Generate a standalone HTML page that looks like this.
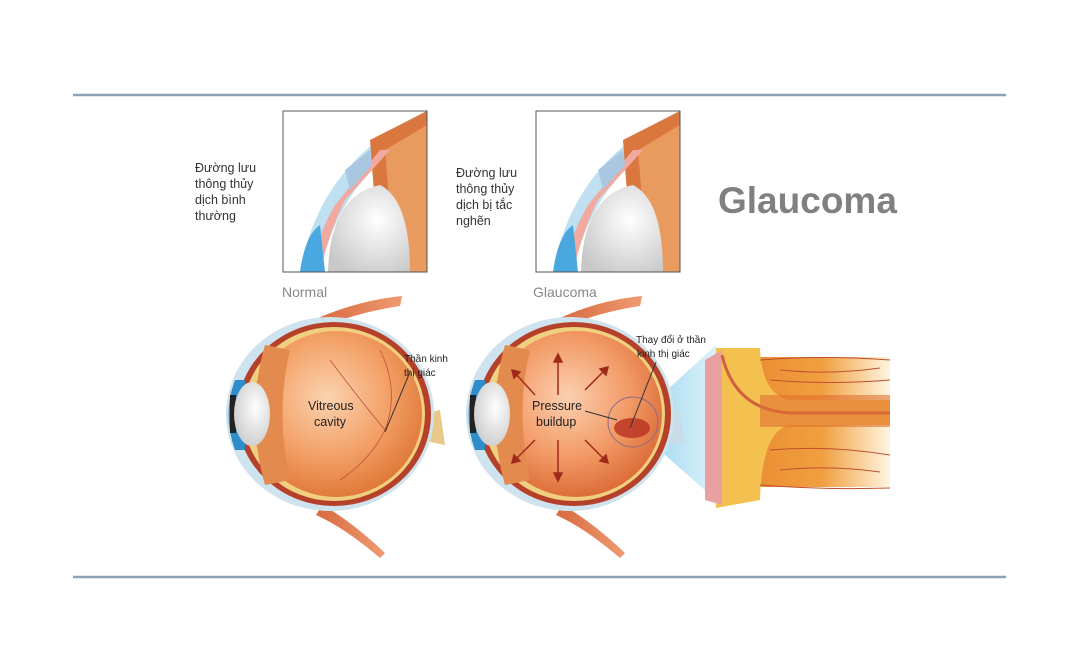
<!DOCTYPE html>
<html><head><meta charset="utf-8"><style>
body{margin:0;background:#fff;width:1080px;height:670px;overflow:hidden}
svg{display:block}
text{font-family:"Liberation Sans",sans-serif}
</style></head><body>
<svg width="1080" height="670" viewBox="0 0 1080 670">
<defs>
<radialGradient id="vit" cx="0.45" cy="0.4" r="0.6"><stop offset="0" stop-color="#fbd3b0"/><stop offset="0.6" stop-color="#f3a066"/><stop offset="1" stop-color="#e07a3a"/></radialGradient>
<radialGradient id="vit2" cx="0.45" cy="0.4" r="0.6"><stop offset="0" stop-color="#fcd0b0"/><stop offset="0.6" stop-color="#f29a66"/><stop offset="1" stop-color="#dd6e3a"/></radialGradient>
<radialGradient id="lens" cx="0.6" cy="0.4" r="0.7"><stop offset="0" stop-color="#fff"/><stop offset="1" stop-color="#c8c8c8"/></radialGradient>
<linearGradient id="nerve" x1="0" y1="0" x2="1" y2="0"><stop offset="0" stop-color="#e88a30"/><stop offset="0.55" stop-color="#f0a040"/><stop offset="1" stop-color="#fff5e0"/></linearGradient>
<linearGradient id="cone" x1="0" y1="0" x2="1" y2="0"><stop offset="0" stop-color="#8fd0ea"/><stop offset="1" stop-color="#d8f0fa"/></linearGradient>
<linearGradient id="musc" x1="0" y1="0" x2="1" y2="0"><stop offset="0" stop-color="#d86a40"/><stop offset="1" stop-color="#f09a70"/></linearGradient>
</defs>
<line x1="73" y1="95" x2="1006" y2="95" stroke="#8aa2b6" stroke-width="2.5"/>
<line x1="73" y1="577" x2="1006" y2="577" stroke="#8aa2b6" stroke-width="2.5"/>

<g>
<clipPath id="c1"><rect x="283" y="111" width="144" height="161"/></clipPath>
<g clip-path="url(#c1)">
<rect x="283" y="111" width="144" height="161" fill="#fff"/>
<path d="M300 272 Q320 160 427 111 L427 130 Q340 175 320 272Z" fill="#bfe0f0"/>
<path d="M370 140 L427 111 L427 272 L380 272 Z" fill="#d9773f"/>
<path d="M385 150 L427 125 L427 272 L395 272 Z" fill="#e99a5e"/>
<path d="M328 272 Q330 195 380 185 Q410 200 410 272Z" fill="url(#lens)"/>
<path d="M320 272 Q330 230 345 200 L390 150 L380 150 L335 205 Q315 240 312 272Z" fill="#f1a9a0"/>
<path d="M300 272 Q305 235 320 225 L325 272Z" fill="#4aa8e0"/>
<path d="M345 170 L370 150 L372 165 L350 190Z" fill="#a9c7e0"/>
</g>
<rect x="283" y="111" width="144" height="161" fill="none" stroke="#555" stroke-width="1"/>
<clipPath id="c2"><rect x="536" y="111" width="144" height="161"/></clipPath>
<g clip-path="url(#c2)">
<rect x="536" y="111" width="144" height="161" fill="#fff"/>
<path d="M553 272 Q573 160 680 111 L680 130 Q593 175 573 272Z" fill="#bfe0f0"/>
<path d="M623 140 L680 111 L680 272 L633 272 Z" fill="#d9773f"/>
<path d="M638 150 L680 125 L680 272 L648 272 Z" fill="#e99a5e"/>
<path d="M581 272 Q583 195 633 185 Q663 200 663 272Z" fill="url(#lens)"/>
<path d="M573 272 Q583 230 598 200 L643 150 L633 150 L588 205 Q568 240 565 272Z" fill="#f1a9a0"/>
<path d="M553 272 Q558 235 573 225 L578 272Z" fill="#4aa8e0"/>
<path d="M598 170 L623 150 L625 165 L603 190Z" fill="#a9c7e0"/>
</g>
<rect x="536" y="111" width="144" height="161" fill="none" stroke="#555" stroke-width="1"/>
</g>

<g font-size="12.5" fill="#333">
<text x="195" y="172">Đường lưu</text><text x="195" y="188">thông thủy</text><text x="195" y="204">dịch bình</text><text x="195" y="220">thường</text>
<text x="456" y="177">Đường lưu</text><text x="456" y="193">thông thủy</text><text x="456" y="209">dịch bị tắc</text><text x="456" y="225">nghẽn</text>
</g>
<text x="718" y="213" font-size="37" font-weight="bold" fill="#808080">Glaucoma</text>
<text x="282" y="297" font-size="14" fill="#888">Normal</text>
<text x="533" y="297" font-size="14" fill="#888">Glaucoma</text>

<g fill="url(#musc)">
<path d="M318 318 Q360 300 402 296 L400 306 Q360 312 325 326Z"/>
<path d="M322 505 Q350 520 385 553 L380 558 Q345 528 316 515Z"/>
<path d="M560 318 Q600 300 642 296 L640 306 Q600 312 567 326Z"/>
<path d="M562 505 Q590 520 625 553 L620 558 Q585 528 556 515Z"/>
</g>

<g>
<path d="M398 420 L440 410 L445 445 L395 435Z" fill="#e9c98a"/>
<ellipse cx="330" cy="414" rx="104" ry="97" fill="#cfe3ee"/>
<ellipse cx="334" cy="414" rx="97" ry="92" fill="#b6412a"/>
<ellipse cx="334" cy="414" rx="91" ry="87" fill="#f0cf80"/>
<ellipse cx="336" cy="414" rx="86" ry="83" fill="url(#vit)"/>
<path d="M265 345 Q245 414 265 485 L290 480 Q275 414 290 350Z" fill="#e38a4f"/>
<path d="M235 380 Q222 414 235 450 L245 450 L245 380Z" fill="#2e8cc8"/>
<rect x="230" y="395" width="6" height="38" fill="#222"/>
<ellipse cx="252" cy="414" rx="18" ry="32" fill="url(#lens)"/>
<g stroke="#c0503a" stroke-width="0.8" fill="none"><path d="M385 430 Q360 400 330 360"/><path d="M385 430 Q370 460 340 480"/><path d="M385 430 Q400 390 380 350"/></g>
<line x1="385" y1="432" x2="410" y2="372" stroke="#333" stroke-width="1"/>
<text x="308" y="410" font-size="12.5" fill="#222">Vitreous</text><text x="314" y="426" font-size="12.5" fill="#222">cavity</text>
<text x="404" y="362" font-size="10" fill="#222">Thần kinh</text><text x="404" y="376" font-size="10" fill="#222">thị giác</text>
</g>

<path d="M640 415 L716 345 L716 500 L648 440Z" fill="url(#cone)" opacity="0.9"/>

<g>
<path d="M640 420 L680 410 L685 445 L637 435Z" fill="#c8dde8"/>
<ellipse cx="570" cy="414" rx="104" ry="97" fill="#cfe3ee"/>
<ellipse cx="574" cy="414" rx="97" ry="92" fill="#b6412a"/>
<ellipse cx="574" cy="414" rx="91" ry="87" fill="#f0cf80"/>
<ellipse cx="576" cy="414" rx="86" ry="83" fill="url(#vit2)"/>
<path d="M505 345 Q485 414 505 485 L530 480 Q515 414 530 350Z" fill="#e38a4f"/>
<path d="M475 380 Q462 414 475 450 L485 450 L485 380Z" fill="#2e8cc8"/>
<rect x="470" y="395" width="6" height="38" fill="#222"/>
<ellipse cx="492" cy="414" rx="18" ry="32" fill="url(#lens)"/>
<ellipse cx="632" cy="428" rx="18" ry="10" fill="#b83020" opacity="0.8"/>
<circle cx="633" cy="422" r="25" fill="none" stroke="#8a6a8a" stroke-width="1"/>
<g stroke="#a02a1a" stroke-width="1.5" fill="#a02a1a">
<line x1="558" y1="395" x2="558" y2="360"/><polygon points="554,362 562,362 558,354"/>
<line x1="558" y1="440" x2="558" y2="475"/><polygon points="554,473 562,473 558,481"/>
<line x1="535" y1="395" x2="515" y2="373"/><polygon points="512,370 520,372 514,378"/>
<line x1="535" y1="440" x2="515" y2="460"/><polygon points="512,463 514,455 520,461"/>
<line x1="585" y1="390" x2="605" y2="370"/><polygon points="608,367 600,369 606,375"/>
<line x1="585" y1="440" x2="605" y2="460"/><polygon points="608,463 606,455 600,461"/>
<line x1="585" y1="411" x2="617" y2="420" stroke="#333" stroke-width="1"/>
<line x1="630" y1="428" x2="656" y2="362" stroke="#333" stroke-width="1"/>
</g>
<text x="532" y="410" font-size="12.5" fill="#222">Pressure</text><text x="536" y="426" font-size="12.5" fill="#222">buildup</text>
<text x="636" y="343" font-size="10" fill="#222">Thay đổi ở thần</text><text x="637" y="357" font-size="10" fill="#222">kinh thị giác</text>
</g>

<g>
<rect x="740" y="357" width="150" height="130" fill="url(#nerve)"/>
<path d="M716 348 L760 348 Q762 395 790 400 L890 400 L890 425 L790 425 Q762 430 760 500 L716 508Z" fill="#f4c050"/>
<path d="M705 360 L722 350 L722 505 L705 500Z" fill="#e8a0a0"/>
<path d="M722 355 Q735 410 790 413 L890 413" stroke="#d06040" stroke-width="3" fill="none"/>
<rect x="760" y="395" width="130" height="32" fill="#e07030" opacity="0.6"/>
<g stroke="#c05030" stroke-width="1" fill="none">
<path d="M760 360 Q820 355 890 360"/><path d="M760 485 Q820 490 890 488"/>
<path d="M770 380 Q830 385 890 380"/><path d="M770 450 Q830 445 890 455"/>
<path d="M780 370 Q830 375 880 368"/><path d="M780 470 Q830 465 880 472"/>
</g>
</g>
</svg>
</body></html>
